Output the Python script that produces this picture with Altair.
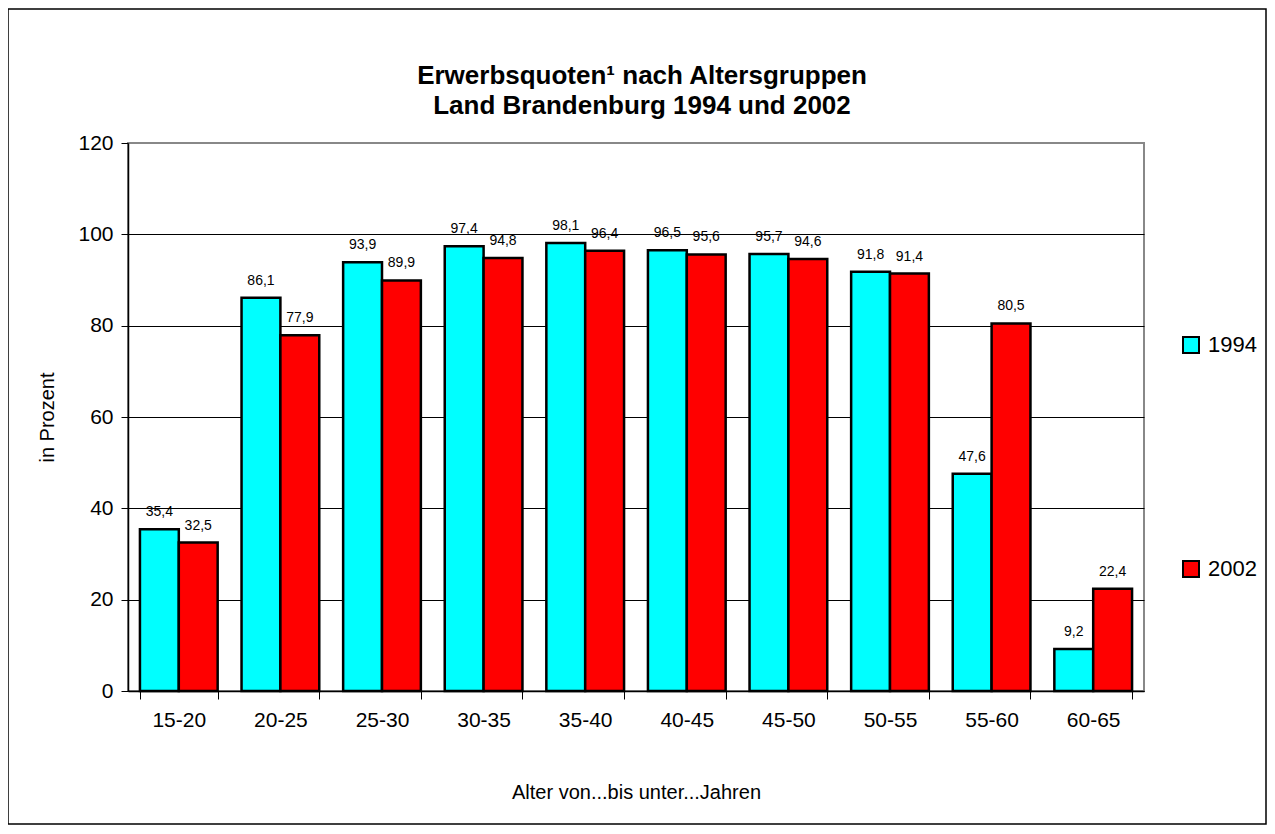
import altair as alt
import pandas as pd

groups = ["15-20", "20-25", "25-30", "30-35", "35-40", "40-45", "45-50", "50-55", "55-60", "60-65"]
years = ["1994", "2002"]
v1994 = [35.4, 86.1, 93.9, 97.4, 98.1, 96.5, 95.7, 91.8, 47.6, 9.2]
v2002 = [32.5, 77.9, 89.9, 94.8, 96.4, 95.6, 94.6, 91.4, 80.5, 22.4]
colors = ["#00FFFF", "#FF0000"]

rows = []
for g, a, b in zip(groups, v1994, v2002):
    for y, v in (("1994", a), ("2002", b)):
        rows.append({"Alter": g, "Jahr": y, "Wert": v, "Label": f"{v:.1f}".replace(".", ",")})
df = pd.DataFrame(rows)

FONT = "Liberation Sans"
W, H = 1016, 548

base = alt.Chart(df).encode(
    x=alt.X(
        "Alter:N",
        sort=groups,
        scale=alt.Scale(paddingInner=0.235, paddingOuter=0.1175),
        axis=alt.Axis(
            title="Alter von...bis unter...Jahren",
            titleFontSize=20,
            titleFontWeight="normal",
            titlePadding=52,
            labelAngle=0,
            labelFontSize=21,
            labelPadding=10,
            tickBand="extent",
            tickSize=8,
            tickColor="black",
            domainColor="black",
            domainWidth=1.5,
            grid=False,
        ),
    ),
    xOffset=alt.XOffset("Jahr:N", sort=years),
    y=alt.Y(
        "Wert:Q",
        scale=alt.Scale(domain=[0, 120]),
        axis=alt.Axis(
            title="in Prozent",
            titleFontSize=20,
            titleFontWeight="normal",
            titlePadding=20,
            values=[0, 20, 40, 60, 80, 100, 120],
            labelFontSize=21,
            labelPadding=8,
            tickSize=7,
            tickColor="black",
            domainColor="black",
            domainWidth=1.5,
            grid=True,
            gridColor=alt.condition("datum.value == 120", alt.value("#888888"), alt.value("black")),
            gridWidth=1,
        ),
    ),
)

bars = base.mark_bar(stroke="black", strokeWidth=2.5).encode(
    color=alt.Color(
        "Jahr:N",
        scale=alt.Scale(domain=years, range=colors),
        legend=alt.Legend(
            title=None,
            orient="none",
            legendX=1052,
            legendY=191,
            direction="vertical",
            symbolType="square",
            symbolSize=256,
            symbolStrokeColor="black",
            symbolStrokeWidth=2,
            symbolOpacity=1,
            labelFontSize=22,
            labelOffset=6,
            rowPadding=200,
        ),
    )
)

labels = base.mark_text(baseline="bottom", dy=-10, fontSize=14, font=FONT, color="black").encode(
    text="Label:N"
)

frame = alt.Chart(pd.DataFrame({"f": [0]})).mark_rect(
    filled=False, stroke="black", strokeWidth=1.5
).encode(
    x=alt.value(-120), x2=alt.value(W + 122), y=alt.value(-134), y2=alt.value(H + 133)
)

chart = (
    alt.layer(bars, labels, frame)
    .properties(
        width=W,
        height=H,
        autosize=alt.AutoSizeParams(type="none"),
        padding={"left": 120, "top": 135, "right": 123, "bottom": 135},
        title=alt.Title(
            ["Erwerbsquoten¹ nach Altersgruppen", "Land Brandenburg 1994 und 2002"],
            fontSize=26,
            fontWeight="bold",
            font=FONT,
            anchor="middle",
            frame="group",
            lineHeight=30,
            offset=30,
            dx=6,
            dy=141,
            color="black",
        ),
    )
    .configure(font=FONT)
    .configure_view(stroke="#888888", strokeWidth=2)
    .configure_axis(labelColor="black", titleColor="black", labelFont=FONT, titleFont=FONT)
    .configure_legend(labelFont=FONT, labelColor="black")
)

chart.save("out.html", embed_options={"renderer": "svg", "actions": False})
